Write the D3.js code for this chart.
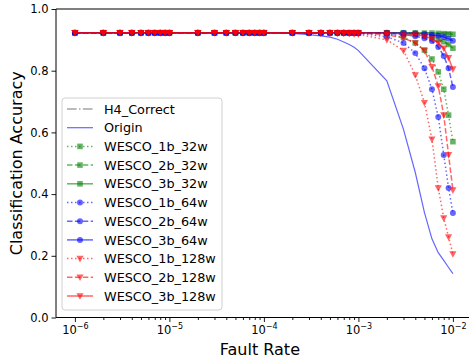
<!DOCTYPE html>
<html><head><meta charset="utf-8">
<script src="https://cdn.jsdelivr.net/npm/d3@7/dist/d3.min.js"></script>
<style>body{margin:0;background:#fff}svg{display:block}text{font-family:"DejaVu Sans",sans-serif}</style>
</head><body><svg id="c" width="469" height="360"></svg>
<script>
// ---- data ----
const faultRates = [1e-6,2e-6,3e-6,4e-6,5e-6,6e-6,7e-6,8e-6,9e-6,
  1e-5,2e-5,3e-5,4e-5,5e-5,6e-5,7e-5,8e-5,9e-5,
  1e-4,2e-4,3e-4,4e-4,5e-4,6e-4,7e-4,8e-4,9e-4,
  1e-3,2e-3,3e-3,4e-3,5e-3,6e-3,7e-3,8e-3,9e-3,1e-2];
const majorTicks = [1e-6,1e-5,1e-4,1e-3,1e-2];
const majorExp = ["−6","−5","−4","−3","−2"];
const yTicks = [0,0.2,0.4,0.6,0.8,1.0];
const yTickLabels = ["0.0","0.2","0.4","0.6","0.8","1.0"];

const h4Correct = [.923,.923,.923,.923,.923,.923,.923,.923,.923, .923,.923,.923,.923,.923,.923,.923,.923,.923, .923,.923,.923,.923,.923,.923,.923,.923,.923, .923,.923,.923,.923,.923,.923,.923,.923,.923,.923];
const origin = [.923,.923,.923,.923,.923,.923,.923,.923,.923, .923,.923,.923,.923,.923,.923,.923,.923,.923, .923,.921,.917,.913,.909,.902,.893,.885,.876, .865,.767,.61,.47,.34,.255,.21,.185,.162,.142];
const w1b32 = [.923,.923,.923,.923,.923,.923,.923,.923,.923, .923,.923,.923,.923,.923,.923,.923,.923,.923, .923,.923,.923,.923,.923,.923,.923,.923,.923, .923,.92,.908,.89,.867,.838,.796,.74,.656,.57];
const w2b32 = [.923,.923,.923,.923,.923,.923,.923,.923,.923, .923,.923,.923,.923,.923,.923,.923,.923,.923, .923,.923,.923,.923,.923,.923,.923,.923,.923, .923,.923,.921,.918,.914,.908,.902,.894,.885,.873];
const w3b32 = [.923,.923,.923,.923,.923,.923,.923,.923,.923, .923,.923,.923,.923,.923,.923,.923,.923,.923, .923,.923,.923,.923,.923,.923,.923,.923,.923, .923,.923,.923,.923,.922,.922,.921,.92,.919,.918];
const w1b64 = [.923,.923,.923,.923,.923,.923,.923,.923,.923, .923,.923,.923,.923,.923,.923,.923,.923,.923, .923,.923,.923,.923,.923,.923,.923,.922,.922, .921,.91,.89,.857,.808,.74,.65,.527,.42,.339];
const w2b64 = [.923,.923,.923,.923,.923,.923,.923,.923,.923, .923,.923,.923,.923,.923,.923,.923,.923,.923, .923,.923,.923,.923,.923,.923,.923,.923,.923, .923,.921,.917,.912,.905,.896,.877,.848,.808,.747];
const w3b64 = [.923,.923,.923,.923,.923,.923,.923,.923,.923, .923,.923,.923,.923,.923,.923,.923,.923,.923, .923,.923,.923,.923,.923,.923,.923,.923,.923, .923,.923,.922,.921,.919,.916,.913,.909,.904,.897];
const w1b128 = [.923,.923,.923,.923,.923,.923,.923,.923,.923, .923,.923,.923,.923,.923,.923,.923,.923,.923, .923,.923,.923,.922,.922,.921,.921,.92,.919, .918,.9,.865,.786,.696,.578,.42,.322,.261,.206];
const w2b128 = [.923,.923,.923,.923,.923,.923,.923,.923,.923, .923,.923,.923,.923,.923,.923,.923,.923,.923, .923,.923,.923,.923,.923,.923,.923,.923,.923, .922,.917,.906,.89,.865,.813,.75,.656,.527,.413];
const w3b128 = [.923,.923,.923,.923,.923,.923,.923,.923,.923, .923,.923,.923,.923,.923,.923,.923,.923,.923, .923,.923,.923,.923,.923,.923,.923,.923,.923, .923,.922,.92,.917,.912,.903,.89,.873,.842,.805];

const seriesNames = ["H4_Correct","Origin","WESCO_1b_32w","WESCO_2b_32w","WESCO_3b_32w","WESCO_1b_64w","WESCO_2b_64w","WESCO_3b_64w","WESCO_1b_128w","WESCO_2b_128w","WESCO_3b_128w"];
const seriesValues = [h4Correct,origin,w1b32,w2b32,w3b32,w1b64,w2b64,w3b64,w1b128,w2b128,w3b128];

// ---- styles ----
const DOT="1.5,2.5", DASH="5.5,2.4", DASHDOT="9.6,2.4,1.5,2.4";
const styles = [
  {color:"#555",dash:DASHDOT,marker:null,op:0.8,w:1.2},
  {color:"blue",dash:null,marker:null,op:0.6,w:1.2},
  {color:"green",dash:DOT,marker:"s",op:0.6,w:1.5},
  {color:"green",dash:DASH,marker:"s",op:0.6,w:1.5},
  {color:"green",dash:null,marker:"s",op:0.6,w:1.5},
  {color:"blue",dash:DOT,marker:"o",op:0.6,w:1.5},
  {color:"blue",dash:DASH,marker:"o",op:0.6,w:1.5},
  {color:"blue",dash:null,marker:"o",op:0.6,w:1.5},
  {color:"red",dash:DOT,marker:"v",op:0.6,w:1.5},
  {color:"red",dash:DASH,marker:"v",op:0.6,w:1.5},
  {color:"red",dash:null,marker:"v",op:0.6,w:1.5}
];

const svg = d3.select("#c");
const L=56, R=471.8, T=9, B=317.5;
const x = d3.scaleLog().domain([Math.pow(10,-6.2),Math.pow(10,-1.8)]).range([L,R]);
const y = d3.scaleLinear().domain([0,1]).range([B,T]);

function markerPath(m){
  if(m==="s") return "M-2.8,-2.8H2.8V2.8H-2.8Z";
  if(m==="o") return d3.symbol(d3.symbolCircle,28)();
  if(m==="v") return "M-3.6,-2.8L3.6,-2.8L0,3.8Z";
  return null;
}

// axes
const minorTicks = faultRates.filter(v=>majorTicks.indexOf(v)<0);
const gx = svg.append("g").attr("transform",`translate(0,${B})`);
gx.call(d3.axisBottom(x).tickValues(minorTicks).tickSize(2.5).tickFormat(""));
gx.call(g=>g.select(".domain").remove());
const gxM = svg.append("g").attr("transform",`translate(0,${B})`)
  .call(d3.axisBottom(x).tickValues(majorTicks).tickSize(4.5).tickSizeOuter(0).tickPadding(3));
gxM.select(".domain").remove();
gxM.selectAll(".tick text").each(function(d,i){
  const t=d3.select(this); t.text(null).attr("font-size",11.5).attr("font-family","DejaVu Sans").attr("y",8).attr("dy","0.71em");
  t.append("tspan").text("10");
  t.append("tspan").attr("font-size",8).attr("dy","-4.5").text(majorExp[i]);
});
const gy = svg.append("g").attr("transform",`translate(${L},0)`)
  .call(d3.axisLeft(y).tickValues(yTicks).tickSize(4.5).tickPadding(3).tickFormat((d,i)=>yTickLabels[i]));
gy.select(".domain").remove();
gy.selectAll(".tick text").attr("font-size",11.5).attr("font-family","DejaVu Sans");
svg.selectAll(".tick line").attr("stroke","#000").attr("stroke-width",0.9);

// series
const line = d3.line().x(d=>x(d[0])).y(d=>y(d[1]));
seriesValues.forEach((vals,si)=>{
  const st=styles[si];
  const pts = faultRates.map((f,i)=>[f,vals[i]]);
  const g = svg.append("g");
  g.append("path").attr("d",line(pts)).attr("fill","none").attr("stroke",st.color)
    .attr("stroke-opacity",st.op).attr("stroke-width",st.w)
    .attr("stroke-dasharray",st.dash);
  if(st.marker){
    g.selectAll("path.m").data(pts).enter().append("path").attr("class","m")
      .attr("d",markerPath(st.marker))
      .attr("transform",d=>`translate(${x(d[0])},${y(d[1])})`)
      .attr("fill",st.color).attr("fill-opacity",st.op);
  }
});

// spines
svg.append("line").attr("x1",L).attr("x2",L).attr("y1",T).attr("y2",B).attr("stroke","#000").attr("stroke-width",1);
svg.append("line").attr("x1",L).attr("x2",R).attr("y1",B).attr("y2",B).attr("stroke","#000").attr("stroke-width",1);
svg.append("line").attr("x1",L).attr("x2",R).attr("y1",T).attr("y2",T).attr("stroke","#000").attr("stroke-width",1);
svg.append("line").attr("x1",R).attr("x2",R).attr("y1",T).attr("y2",B).attr("stroke","#000").attr("stroke-width",1);

// labels
svg.append("text").attr("x",(L+R)/2-4).attr("y",355).attr("text-anchor","middle").attr("font-size",16).text("Fault Rate");
svg.append("text").attr("transform",`translate(22,${(T+B)/2}) rotate(-90)`).attr("text-anchor","middle").attr("font-size",16).text("Classification Accuracy");

// legend
const lg = svg.append("g");
lg.append("rect").attr("x",62).attr("y",98).attr("width",160).attr("height",212).attr("rx",3)
  .attr("fill","#fff").attr("fill-opacity",0.85).attr("stroke","#d0d0d0").attr("stroke-width",1);
seriesNames.forEach((name,i)=>{
  const st=styles[i]; const cy=109+i*18.7;
  lg.append("line").attr("x1",67).attr("x2",93).attr("y1",cy).attr("y2",cy)
    .attr("stroke",st.color).attr("stroke-opacity",st.op).attr("stroke-width",st.w)
    .attr("stroke-dasharray",st.dash);
  if(st.marker) lg.append("path").attr("d",markerPath(st.marker)).attr("transform",`translate(80,${cy})`)
    .attr("fill",st.color).attr("fill-opacity",st.op);
  lg.append("text").attr("x",104).attr("y",cy+4.6).attr("font-size",12.8).text(name);
});
</script></body></html>
